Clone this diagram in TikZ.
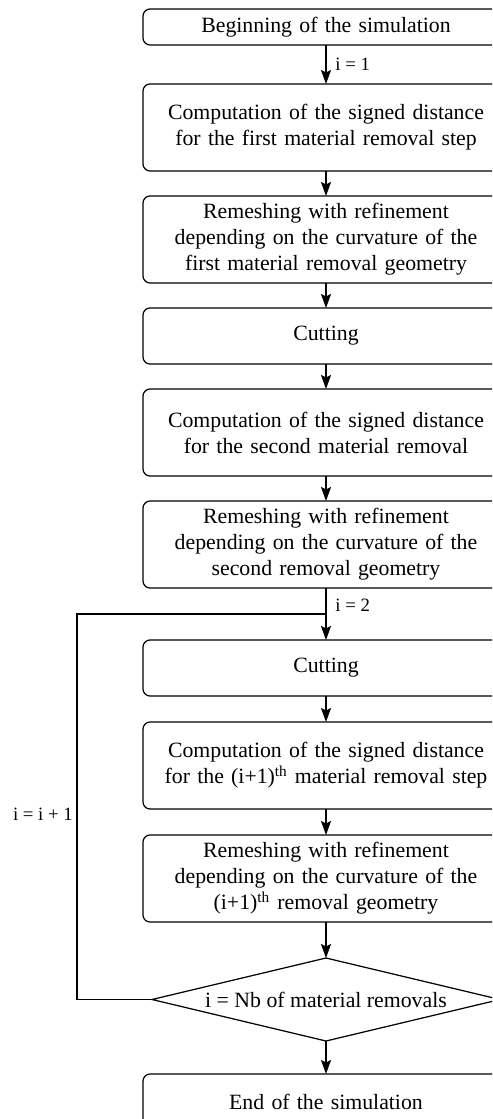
\documentclass[tikz,border=0pt]{standalone}
\usepackage{fontspec}
\setmainfont{Liberation Serif}
\usetikzlibrary{arrows.meta, positioning, shapes.geometric, calc}
\newcommand{\mainsize}{\fontsize{12.4}{14.8}\selectfont}
\newcommand{\lblsize}{\fontsize{10.7}{13}\selectfont}

\begin{document}
\begin{tikzpicture}[
  node distance=0.5cm,
  procbox/.style={rectangle, rounded corners=4pt, draw, line width=0.7pt, outer sep=0pt,
               minimum width=7.32cm, minimum height=1.74cm, text width=7.1cm,
               align=center, font=\mainsize, inner sep=1pt},
  titlebox/.style={procbox, minimum height=0.72cm},
  cutbox/.style={procbox, minimum height=1.12cm},
  decbox/.style={diamond, draw, line width=0.7pt, outer sep=0pt, shape aspect=4.2,
               minimum width=6.96cm, minimum height=1.66cm, inner sep=1pt, font=\mainsize},
  arr/.style={-{Stealth[length=2.8mm, width=2mm, inset=0.5mm]}, line width=0.7pt},
  lbl/.style={font=\lblsize, inner sep=2pt},
  rlbl/.style={lbl, right, xshift=3pt}
]
  \useasboundingbox (0,0) rectangle (9.84,-22.38);
  \clip (0,0) rectangle (9.84,-22.38);

  \node[titlebox] (start) at (6.52,-0.54) {Beginning of the simulation};
  \node[procbox, below=0.78cm of start] (c1)
    {Computation of the signed distance\\for the first material removal step};
  \node[procbox, below=of c1] (r1)
    {Remeshing with refinement\\depending on the curvature of the\\first material removal geometry};
  \node[cutbox, below=of r1] (cut1) {Cutting};
  \node[procbox, below=of cut1] (c2)
    {Computation of the signed distance\\for the second material removal};
  \node[procbox, below=of c2] (r2)
    {Remeshing with refinement\\depending on the curvature of the\\second removal geometry};
  \node[cutbox, below=1.04cm of r2] (cut2) {Cutting};
  \node[procbox, below=0.52cm of cut2] (c3)
    {Computation of the signed distance\\for the (i+1)\textsuperscript{th} material removal step};
  \node[procbox, below=0.52cm of c3] (r3)
    {Remeshing with refinement\\depending on the curvature of the\\(i+1)\textsuperscript{th} removal geometry};
  \node[decbox, below=0.72cm of r3] (test) {i = Nb of material removals};
  \node[procbox, minimum height=1.1cm, below=0.66cm of test] (finish) {End of the simulation};

  % loop back point
  \coordinate (join) at ($(r2.south)!0.5!(cut2.north)$);

  \draw[arr] (start) -- (c1) node[midway, rlbl] {i = 1};
  \draw[arr] (c1) -- (r1);
  \draw[arr] (r1) -- (cut1);
  \draw[arr] (cut1) -- (c2);
  \draw[arr] (c2) -- (r2);
  \draw[arr] (r2) -- (cut2) node[pos=0.33, rlbl] {i = 2};
  \draw[arr] (cut2) -- (c3);
  \draw[arr] (c3) -- (r3);
  \draw[arr] (r3) -- (test);
  \draw[arr] (test) -- (finish);
  \draw[line width=0.7pt] (test.west) -- ++(-1.5,0) |- (join)
    node[pos=0.24, left, lbl] {i = i + 1};
\end{tikzpicture}
\end{document}
